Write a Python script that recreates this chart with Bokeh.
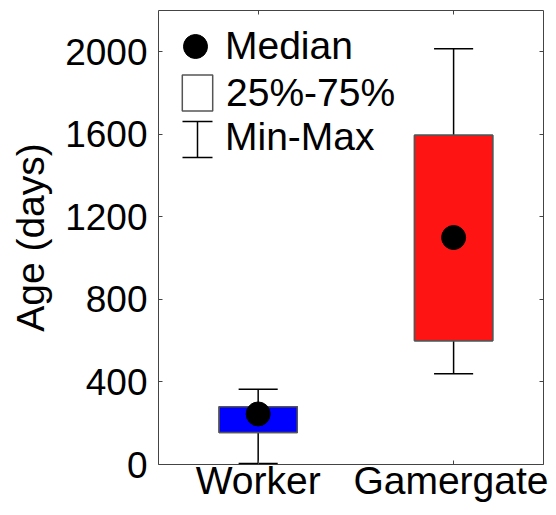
import numpy as np
from bokeh.plotting import figure
from bokeh.models import (ColumnDataSource, FixedTicker, LinearAxis, Legend, LegendItem,
                          Whisker, TeeHead, Range1d, CustomLabelingPolicy)
from bokeh.embed import file_html
from bokeh.resources import INLINE

# ---- data ----
categories = ["Worker", "Gamergate"]
positions = [1, 2]
age_min = [5, 440]
age_q1 = [155, 600]
age_median = [245, 1100]
age_q3 = [280, 1595]
age_max = [365, 2015]
box_colors = ["#0000FF", "#FF1414"]
y_ticks = [0, 400, 800, 1200, 1600, 2000]
legend_labels = ["Median", "25%-75%", "Min-Max"]

FONT = "Liberation Sans"
BOX_W = 0.4
CAP_W = 0.2
EDGE = "#444444"

x = np.array(positions, dtype=float)
src = ColumnDataSource(dict(x=x, lo=age_min, q1=age_q1, med=age_median, q3=age_q3,
                            hi=age_max, color=box_colors,
                            cap_l=x - CAP_W / 2, cap_r=x + CAP_W / 2))

p = figure(width=548, height=507, output_backend="svg", toolbar_location=None,
           x_range=Range1d(0.49, 2.46), y_range=Range1d(0, 2200),
           min_border_left=158, min_border_right=2, min_border_top=10, min_border_bottom=43)
p.xgrid.visible = False
p.ygrid.visible = False
p.outline_line_color = EDGE
p.outline_line_width = 1
p.background_fill_color = "white"
p.border_fill_color = "white"

hide_labels = CustomLabelingPolicy(code="return new Set()")


def style_axis(ax, size):
    ax.axis_line_color = None
    ax.major_tick_in = 4
    ax.major_tick_out = 0
    ax.major_tick_line_color = EDGE
    ax.major_tick_line_width = 1
    ax.minor_tick_line_color = None
    ax.major_label_text_font = FONT
    ax.major_label_text_font_size = size
    ax.major_label_text_color = "black"


# left axis
ya = p.yaxis[0]
ya.ticker = FixedTicker(ticks=y_ticks)
style_axis(ya, "37px")
ya.major_label_standoff = 11
ya.axis_label = "Age (days)"
ya.axis_label_text_font = FONT
ya.axis_label_text_font_size = "39px"
ya.axis_label_text_font_style = "normal"
ya.axis_label_text_color = "black"
ya.axis_label_standoff = 10

# bottom axis with the category names
xa = p.xaxis[0]
xa.ticker = FixedTicker(ticks=positions)
xa.major_label_overrides = {pos: cat for pos, cat in zip(positions, categories)}
style_axis(xa, "39px")
xa.major_label_standoff = -6

# mirrored ticks on top and right
ra = LinearAxis(ticker=FixedTicker(ticks=y_ticks))
style_axis(ra, "1px")
ra.major_label_standoff = 0
ra.major_label_policy = hide_labels
p.add_layout(ra, "right")
ta = LinearAxis(ticker=FixedTicker(ticks=positions))
style_axis(ta, "1px")
ta.major_label_standoff = 0
ta.major_label_policy = hide_labels
p.add_layout(ta, "above")

# ---- marks ----
r_stem = p.segment(x0="x", y0="lo", x1="x", y1="hi", source=src, line_color="black", line_width=1.5)
# white key box, fully covered by the coloured boxes (only shows in the legend)
r_key = p.vbar(x="x", width=BOX_W, bottom="q1", top="q3", source=src,
               fill_color="white", line_color="#555555", line_width=1.5)
r_box = p.vbar(x="x", width=BOX_W, bottom="q1", top="q3", source=src,
               fill_color="color", line_color="#555555", line_width=1.5)
p.segment(x0="cap_l", y0="hi", x1="cap_r", y1="hi", source=src, line_color="black", line_width=1.5)
p.segment(x0="cap_l", y0="lo", x1="cap_r", y1="lo", source=src, line_color="black", line_width=1.5)
r_med = p.ellipse(x="x", y="med", width=24, height=24, width_units="screen", height_units="screen",
                  source=src, fill_color="black", line_color="black")


def make_legend(label, renderers, loc, gw, gh, standoff):
    lg = Legend(items=[LegendItem(label=label, renderers=renderers)], location=loc,
                glyph_width=gw, glyph_height=gh, label_standoff=standoff,
                label_text_font=FONT, label_text_font_size="39px", label_text_color="black",
                padding=0, margin=0, spacing=0, border_line_color=None,
                background_fill_alpha=0)
    p.add_layout(lg)
    return lg


make_legend(legend_labels[0], [r_med], (22, 396), 30, 30, 15)
make_legend(legend_labels[1], [r_key], (20, 349), 38, 45, 10)
make_legend(legend_labels[2], [r_stem], (52, 305), 0, 30, 15)

# I-shaped key for Min-Max (screen units inside the frame)
key_src = ColumnDataSource(dict(b=[39], lo=[307], up=[343]))
p.add_layout(Whisker(source=key_src, base="b", lower="lo", upper="up", dimension="height",
                     base_units="screen", lower_units="screen", upper_units="screen",
                     line_color="black", line_width=1.5,
                     upper_head=TeeHead(size=30, line_color="black", line_width=1.5),
                     lower_head=TeeHead(size=30, line_color="black", line_width=1.5)))

open("out.html", "w").write(file_html(p, INLINE))
